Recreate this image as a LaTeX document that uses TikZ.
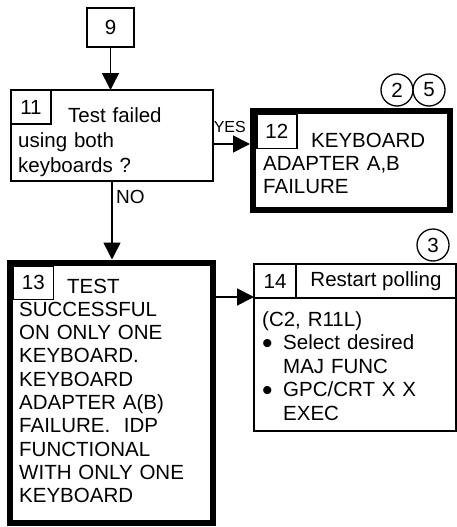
\documentclass[tikz,border=0pt]{standalone}
\usepackage{fontspec}
\setmainfont{Liberation Sans}
\usetikzlibrary{arrows.meta}
\newcommand\bul{\makebox[21pt][l]{\raisebox{-3.5pt}{\fontsize{30}{30}\selectfont\textbullet}}}
\newcommand\bsp{\hspace*{21pt}}

\begin{document}
\begin{tikzpicture}[x=1pt,y=-1pt,
  every node/.style={font=\fontsize{20.5}{23}\selectfont},
  thinbox/.style={draw,line width=1.6pt,inner sep=0pt,outer sep=0pt},
  heavybox/.style={draw,line width=6pt,inner sep=0pt},
  tag/.style={thinbox,anchor=north west},
  ref/.style={draw,circle,line width=1.3pt,minimum size=32pt,inner sep=0pt},
  arr/.style={line width=1.6pt,-{Triangle[length=17pt,width=17pt]}},
  body/.style={anchor=base west,align=left,inner sep=0pt,text width=#1}]
\fill[white] (0,0) rectangle (457,527);
\useasboundingbox (0,0) rectangle (457,527);
% boxes
\node[thinbox,minimum width=47pt,minimum height=39pt] (b9) at (110.5,27.5) {9};
\node[thinbox,minimum width=202pt,minimum height=91pt] (b11) at (112,135.5) {};
\node[tag,minimum width=40pt,minimum height=34pt] (l11) at (b11.north west) {11};
\node[heavybox,minimum width=197pt,minimum height=99pt] (b12) at (351.5,160) {};
\node[tag,minimum width=40pt,minimum height=34pt,xshift=6.8pt,yshift=-6.8pt] (l12) at (b12.north west) {12};
\node[heavybox,minimum width=203pt,minimum height=260.5pt] (b13) at (111,392.75) {};
\node[tag,minimum width=40pt,minimum height=33pt,xshift=6.8pt,yshift=-6.8pt] (l13) at (b13.north west) {13};
\node[thinbox,minimum width=202pt,minimum height=167pt] (b14) at (355,347.5) {};
\node[tag,minimum width=42pt,minimum height=34pt] (h14) at (b14.north west) {14};
\node[tag,minimum width=160pt,minimum height=34pt] (r14) at (h14.north east) {Restart polling};
% texts
\node[body=190pt,font=\fontsize{20.5}{25}\selectfont] (t11) at (18,122) {\hspace*{50pt}Test failed\\using both\\keyboards ?};
\node[body=185pt] (t12) at (263,147) {\hspace*{48pt}KEYBOARD\\ADAPTER A,B\\FAILURE};
\node[body=190pt,font=\fontsize{20.5}{23.3}\selectfont] (t13) at (19,293) {\hspace*{48pt}TEST\\SUCCESSFUL\\ON ONLY ONE\\KEYBOARD.\\KEYBOARD\\ADAPTER A(B)\\FAILURE.~~IDP\\FUNCTIONAL\\WITH ONLY ONE\\KEYBOARD};
\node[body=190pt,font=\fontsize{20.5}{23.5}\selectfont] (t14) at (262,326) {(C2, R11L)\\\bul Select desired\\\bsp MAJ FUNC\\\bul GPC/CRT X X\\\bsp EXEC};
% references
\node[ref] (c2) at (397,90) {2};
\node[ref] (c5) at (429,90) {5};
\node[ref] (c3) at (433,245) {3};
% flow
\coordinate (ya) at (0,144);
\coordinate (yb) at (0,297);
\draw[arr] (b9.south) -- (b9.south |- b11.north);
\draw[arr] (b11.south) -- node[pos=0.2,right,font=\fontsize{19}{19}\selectfont] (lno) {NO} (b11.south |- b13.north);
\draw[arr] (b11.east |- ya) -- node[pos=0,anchor=base west,inner sep=0pt,yshift=12pt,font=\fontsize{16}{16}\selectfont] (lyes) {YES} (b12.west |- ya);
\draw[arr] (b13.east |- yb) -- (b14.west |- yb);
\end{tikzpicture}
\end{document}
